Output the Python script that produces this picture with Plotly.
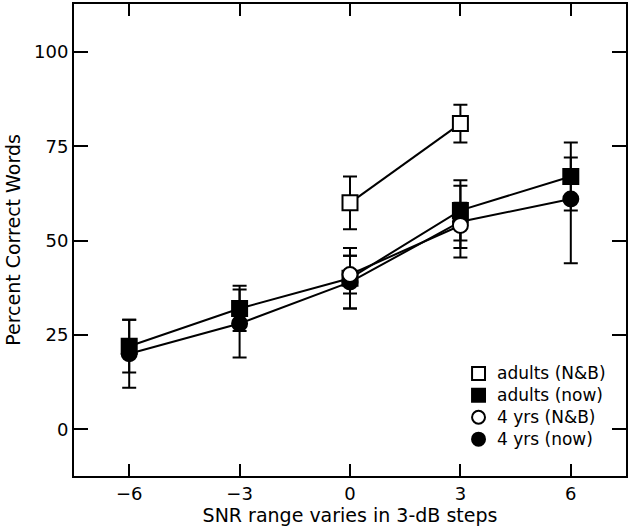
import plotly.graph_objects as go

# SNR steps
snr_all = [-6, -3, 0, 3, 6]
snr_nb = [0, 3]

# adults (N&B)
adults_nb = [60, 81]
adults_nb_err = [7, 5]
# adults (now)
adults_now = [22, 32, 40, 58, 67]
adults_now_err = [7, 6, 8, 8, 9]
# 4 yrs (N&B)
kids_nb = [41, 54]
kids_nb_err = [5, 6]
# 4 yrs (now)
kids_now = [20, 28, 39, 55, 61]
kids_now_err_plus = [9, 9, 7, 9.5, 11]
kids_now_err_minus = [9, 9, 7, 9.5, 17]

x_ticks = [-6, -3, 0, 3, 6]
y_ticks = [0, 25, 50, 75, 100]

legend_names = ["adults (N&B)", "adults (now)", "4 yrs (N&B)", "4 yrs (now)"]
legend_shapes = ["square", "square", "circle", "circle"]
legend_fills = ["white", "black", "white", "black"]

FONT = "DejaVu Sans"
BLACK = "black"

W, H = 630, 531
ML, MR, MT, MB = 74, 2, 2, 55
PW, PH = W - ML - MR, H - MT - MB


def px_x(px):
    return (px - ML) / PW


def px_y(py):
    return (H - MB - py) / PH


def err(plus, minus=None):
    d = dict(type="data", array=plus, visible=True, color=BLACK, thickness=2, width=7)
    if minus is not None:
        d["symmetric"] = False
        d["arrayminus"] = minus
    return d


fig = go.Figure()

series = [
    ("adults (now)", snr_all, adults_now, err(adults_now_err), "square", BLACK),
    ("4 yrs (now)", snr_all, kids_now, err(kids_now_err_plus, kids_now_err_minus), "circle", BLACK),
    ("adults (N&B)", snr_nb, adults_nb, err(adults_nb_err), "square", "white"),
    ("4 yrs (N&B)", snr_nb, kids_nb, err(kids_nb_err), "circle", "white"),
]
for name, xs, ys, e, sym, fill in series:
    fig.add_trace(go.Scatter(
        x=xs, y=ys, mode="lines+markers", name=name, showlegend=False,
        line=dict(color=BLACK, width=2),
        marker=dict(symbol=sym, size=15, color=fill, line=dict(color=BLACK, width=2)),
        error_y=e,
    ))

# Legend drawn as shapes + annotations (symbols only, tight spacing as in reference)
sym_cx, text_x, row0, row_step, half = 480, 497, 373, 22, 6.5
for i, (name, shp, fill) in enumerate(zip(legend_names, legend_shapes, legend_fills)):
    cy = row0 + i * row_step
    fig.add_shape(
        type="rect" if shp == "square" else "circle",
        xref="paper", yref="paper",
        x0=px_x(sym_cx - half), x1=px_x(sym_cx + half),
        y0=px_y(cy + half), y1=px_y(cy - half),
        line=dict(color=BLACK, width=2), fillcolor=fill, layer="above",
    )
    fig.add_annotation(
        xref="paper", yref="paper", x=px_x(text_x), y=px_y(cy),
        xanchor="left", yanchor="middle", showarrow=False,
        text=name, font=dict(family=FONT, size=17, color=BLACK),
    )

fig.update_layout(
    width=W, height=H,
    margin=dict(l=ML, r=MR, t=MT, b=MB),
    paper_bgcolor="white", plot_bgcolor="white",
    font=dict(family=FONT, size=18, color=BLACK),
    showlegend=False,
)
fig.update_xaxes(
    range=[-7.5, 7.5], tickvals=x_ticks,
    ticktext=[("\u2212" + str(-v)) if v < 0 else str(v) for v in x_ticks],
    ticks="inside", ticklen=12, tickwidth=2, tickcolor=BLACK,
    showline=True, linewidth=2, linecolor=BLACK, mirror="ticks",
    showgrid=False, zeroline=False,
    tickfont=dict(family=FONT, size=18),
    title=dict(text="SNR range varies in 3-dB steps", font=dict(family=FONT, size=19), standoff=4),
)
fig.update_yaxes(
    range=[-12.4, 112.7], tickvals=y_ticks, ticktext=[str(v) for v in y_ticks],
    ticks="inside", ticklen=14, tickwidth=2, tickcolor=BLACK,
    showline=True, linewidth=2, linecolor=BLACK, mirror="ticks",
    showgrid=False, zeroline=False,
    tickfont=dict(family=FONT, size=18),
    title=dict(text="Percent Correct Words", font=dict(family=FONT, size=19), standoff=8),
)

fig.write_html(
    "out.html",
    config={"displayModeBar": False},
    post_script="document.body.style.margin='0';document.body.style.overflow='hidden';",
)
